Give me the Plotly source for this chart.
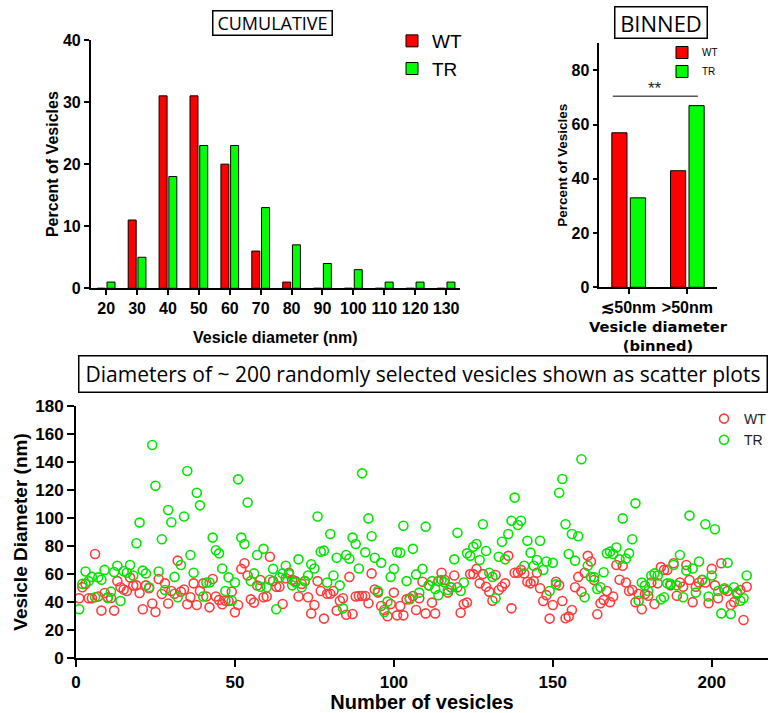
import plotly.graph_objects as go

# ---------------- data ----------------
bins = ["20", "30", "40", "50", "60", "70", "80", "90", "100", "110", "120", "130"]
wt_pct = [0, 11, 31, 31, 20, 6, 1, 0, 0, 0, 0, 0]
tr_pct = [1, 5, 18, 23, 23, 13, 7, 4, 3, 1, 1, 1]

binned_cats = ["≲50nm", ">50nm"]
wt_binned = [57, 43]
tr_binned = [33, 67]

vesicle_idx = list(range(1, 212))
wt_diam = [
    42.8, 50.6, 53, 42.8, 42.8, 74.3, 44, 34, 46.5, 43.5,
    43, 34, 55, 50.6, 49, 48, 57.5, 51.8, 52, 46.5,
    35, 52, 50, 39, 33, 56.5, 45.8, 53.4, 39, 48,
    46, 69.6, 47.5, 49, 38.5, 43.5, 53.4, 38, 48, 53.4,
    44, 36.3, 56.5, 44, 41.6, 38.5, 41, 40.8, 47.5, 32.8,
    38, 63.7, 67.7, 59, 42, 39.7, 51.8,
    55.8, 43.5, 44, 72.4, 55, 51, 51, 38.7, 57, 61,
    56, 55, 44, 53, 55, 43.5, 32, 38, 55, 48,
    28.3, 46, 46, 48, 34, 41, 42.8, 31, 58, 31.6,
    44, 44.4, 44.4, 44.4, 39.2, 60.5, 49, 46.8, 37.3, 34.4,
    30, 38.7, 46.8, 30.6, 37.3, 30.6, 42, 42.8, 44.4, 34.4,
    42.8, 54.6, 32, 52, 39.7, 32, 55, 61, 55.8, 46.8,
    50.6, 59, 50.6, 32.5, 38.7, 39.7, 60, 60, 63.7, 53.4,
    60, 51, 47.5, 41, 59.4, 48.7, 51, 53.4, 73,
    35.6, 61, 61, 63, 60.5, 54.6, 53.4, 55, 61, 49.9,
    40.8, 45, 28.3, 38, 54.6, 52, 40.8, 28.5, 29.7, 34.4,
    50.6, 58, 47.5, 61, 73, 69, 55.8, 31.4, 39.2, 41.6,
    48, 40, 44, 66.5, 56, 66, 54, 48, 48.7, 40,
    45.8, 35, 45.8, 44.6, 54, 38.7, 53.4, 65, 63, 63,
    52, 67.7, 44.6, 54, 51, 66.5, 55.8, 40, 51, 54,
    55.8, 54, 39.2, 63.7, 52, 42.8, 67.7, 49, 48, 38,
    40, 45.8, 48.7, 27.3, 51,
]
tr_diam = [
    35, 53, 61.8, 55, 58, 43.5, 57.7, 56, 63, 43,
    47.5, 61.5, 66, 40.8, 62, 61, 66.5, 59, 82, 96.7,
    62.5, 60.5, 50.6, 152, 123, 61.8, 84.8, 48.7, 105.7, 97,
    58, 43.5, 66.5, 101, 133.5, 73.6, 61, 118, 109, 44,
    54, 54, 86, 77, 74.8, 64, 48, 57.7, 41, 54,
    127.5, 86, 81.5, 111, 55, 60.5, 73.6,
    51, 78, 50.6, 56, 63.7, 35, 57.7, 60.5, 66, 60,
    52, 54, 70.5, 50.6, 55, 59, 67, 64, 101, 76,
    76.7, 54, 88.6, 59, 71.7, 52, 35.6, 73.6, 71, 86,
    81.5, 64, 131.8, 75.5, 99.7, 87, 71.7, 48, 68, 33,
    40.4, 58, 63.7, 75.5, 75.3, 94.5, 55, 42, 78, 59.8,
    46.8, 63.7, 93.8, 52, 55, 49.4, 45, 55.8, 54, 48.7,
    50.6, 70.5, 89.5, 48, 54, 74.8, 73, 79.5, 81.5, 70,
    95.5, 76.5, 61, 58, 42.8, 72.4, 83, 70.5, 88.6,
    98, 114.5, 95, 98, 66, 83.8, 75.3, 66, 70, 83.8,
    63, 69, 48, 68, 52.7, 118, 127.8, 95.5, 74.3, 88.6,
    69.6, 87, 141.8, 43.5, 66, 58, 57.7, 49.4, 50.6, 61.3,
    74.8, 76, 74.3, 79, 70.5, 99.7, 71, 74.8, 84.8, 110.4,
    41, 54, 51.8, 48, 59, 60.5, 59, 42, 43.5, 53.4,
    53, 66.5, 52, 73.6, 43.5, 62.5, 101.7, 64, 46.8, 69,
    56, 95.5, 44, 59, 92, 48, 32, 49.9, 68, 31.6,
    50.6, 46.8, 41, 42.8, 59,
]

# ---------------- styles ----------------
W, H = 772, 713
ARIAL = "Liberation Sans, Arial, sans-serif"
BOXFONT = "Open Sans, Noto Sans, sans-serif"
RED_BAR, GREEN_BAR = "#ff0000", "#00ff00"
RED_PT, GREEN_PT = "rgb(255,60,60)", "rgb(0,230,0)"


def px_x(p):
    return p / W


def px_y(p):
    return 1 - p / H


def axis_common(lw=1.5, ticklen=5, fsize=16):
    return dict(showline=True, linecolor="black", linewidth=lw, ticks="outside",
                ticklen=ticklen, tickwidth=lw, tickcolor="black", showgrid=False,
                zeroline=False, mirror=False, automargin=False, tickangle=0,
                tickfont=dict(family=ARIAL, size=fsize, color="black", weight="bold"))


fig = go.Figure()

# cumulative histogram
fig.add_trace(go.Bar(x=bins, y=wt_pct, name="WT", xaxis="x", yaxis="y", legend="legend",
                     marker=dict(color=RED_BAR, line=dict(color="black", width=1))))
fig.add_trace(go.Bar(x=bins, y=tr_pct, name="TR", xaxis="x", yaxis="y", legend="legend",
                     marker=dict(color=GREEN_BAR, line=dict(color="black", width=1))))

# binned
fig.add_trace(go.Bar(x=binned_cats, y=wt_binned, name="WT", xaxis="x2", yaxis="y2", legend="legend2",
                     marker=dict(color=RED_BAR, line=dict(color="black", width=1))))
fig.add_trace(go.Bar(x=binned_cats, y=tr_binned, name="TR", xaxis="x2", yaxis="y2", legend="legend2",
                     marker=dict(color=GREEN_BAR, line=dict(color="black", width=1))))

# scatter
fig.add_trace(go.Scatter(x=vesicle_idx, y=wt_diam, mode="markers", name="WT", xaxis="x3", yaxis="y3",
                         legend="legend3",
                         marker=dict(symbol="circle-open", size=9, color=RED_PT, line=dict(width=1.6))))
fig.add_trace(go.Scatter(x=vesicle_idx, y=tr_diam, mode="markers", name="TR", xaxis="x3", yaxis="y3",
                         legend="legend3",
                         marker=dict(symbol="circle-open", size=9, color=GREEN_PT, line=dict(width=1.6))))

xa1 = axis_common()
xa1.update(domain=[px_x(90.7), px_x(460)], anchor="y", type="category", range=[-0.5, 11.45],
           title=dict(text="Vesicle diameter (nm)", standoff=16,
                      font=dict(family=ARIAL, size=16, color="black", weight="bold")))
ya1 = axis_common()
ya1.update(domain=[px_y(288.3), px_y(40)], anchor="x", range=[0, 40], dtick=10,
           title=dict(text="Percent of Vesicles", standoff=0,
                      font=dict(family=ARIAL, size=16, color="black", weight="bold")))

xa2 = axis_common()
xa2.update(domain=[px_x(599.3), px_x(716.7)], anchor="y2", type="category", range=[-0.5, 1.5],
           title=dict(text="Vesicle diameter<br>(binned)", standoff=6,
                      font=dict(family="DejaVu Sans, sans-serif", size=14.7, color="black", weight="bold")))
ya2 = axis_common()
ya2.update(domain=[px_y(287.3), px_y(43.3)], anchor="x2", range=[0, 90], dtick=20,
           title=dict(text="Percent of Vesicles", standoff=1,
                      font=dict(family=ARIAL, size=13.5, color="black", weight="bold")))

xa3 = axis_common(lw=2, ticklen=7, fsize=17)
xa3.update(domain=[px_x(76), px_x(768)], anchor="y3", range=[0, 217.7], tickvals=[0, 50, 100, 150, 200],
           title=dict(text="Number of vesicles", standoff=8,
                      font=dict(family=ARIAL, size=20, color="black", weight="bold")))
ya3 = axis_common(lw=2, ticklen=7, fsize=17)
ya3.update(domain=[px_y(658.3), px_y(405.7)], anchor="x3", range=[0, 180], dtick=20,
           title=dict(text="Vesicle Diameter (nm)", standoff=3,
                      font=dict(family=ARIAL, size=19, color="black", weight="bold")))

fig.update_layout(
    width=W, height=H, autosize=False,
    margin=dict(l=0, r=0, t=0, b=0),
    paper_bgcolor="white", plot_bgcolor="white",
    barmode="group", bargap=0.37, bargroupgap=0.18,
    xaxis=xa1, yaxis=ya1, xaxis2=xa2, yaxis2=ya2, xaxis3=xa3, yaxis3=ya3,
    legend=dict(x=px_x(392), y=px_y(22), xanchor="left", yanchor="top", bgcolor="rgba(0,0,0,0)",
                font=dict(family=ARIAL, size=19, color="black"), itemwidth=30, tracegroupgap=0),
    legend2=dict(x=px_x(662), y=px_y(38), xanchor="left", yanchor="top", bgcolor="rgba(0,0,0,0)",
                 font=dict(family=ARIAL, size=10, color="black"), itemwidth=30),
    legend3=dict(x=px_x(704), y=px_y(403), xanchor="left", yanchor="top", bgcolor="rgba(0,0,0,0)",
                 font=dict(family=ARIAL, size=14, color="#222"), itemwidth=30),
    showlegend=True,
)

# significance bar and stars on binned chart
fig.add_shape(type="line", xref="x2", yref="y2", x0=-0.27, x1=1.18, y0=70.5, y1=70.5,
              line=dict(color="black", width=1))
fig.add_annotation(xref="x2", yref="y2", x=0.45, y=69, yanchor="bottom", text="**", showarrow=False,
                   font=dict(family=ARIAL, size=17, color="#222"))

# boxed titles
fig.add_annotation(xref="paper", yref="paper", x=px_x(272.5), y=px_y(23.5), text="CUMULATIVE",
                   showarrow=False, font=dict(family=BOXFONT, size=18, color="black"),
                   bordercolor="black", borderwidth=1.5, borderpad=0, width=118, height=23,
                   xanchor="center", yanchor="middle")
fig.add_annotation(xref="paper", yref="paper", x=px_x(661), y=px_y(22.5), text="BINNED",
                   showarrow=False, font=dict(family=BOXFONT, size=22, color="black"),
                   bordercolor="black", borderwidth=1.5, borderpad=0, width=91, height=30,
                   xanchor="center", yanchor="middle")
fig.add_annotation(xref="paper", yref="paper", x=px_x(423), y=px_y(374),
                   text="Diameters of ~ 200 randomly selected vesicles shown as scatter plots",
                   showarrow=False, font=dict(family=BOXFONT, size=21, color="black"),
                   bordercolor="black", borderwidth=1.5, borderpad=0, width=687, height=35,
                   xanchor="center", yanchor="middle")

# remove the browser's default page margin so the figure fills the 772x713 window exactly
fig.write_html("out.html", config={"displayModeBar": False},
               post_script="document.body.style.margin='0';document.body.style.overflow='hidden';")
